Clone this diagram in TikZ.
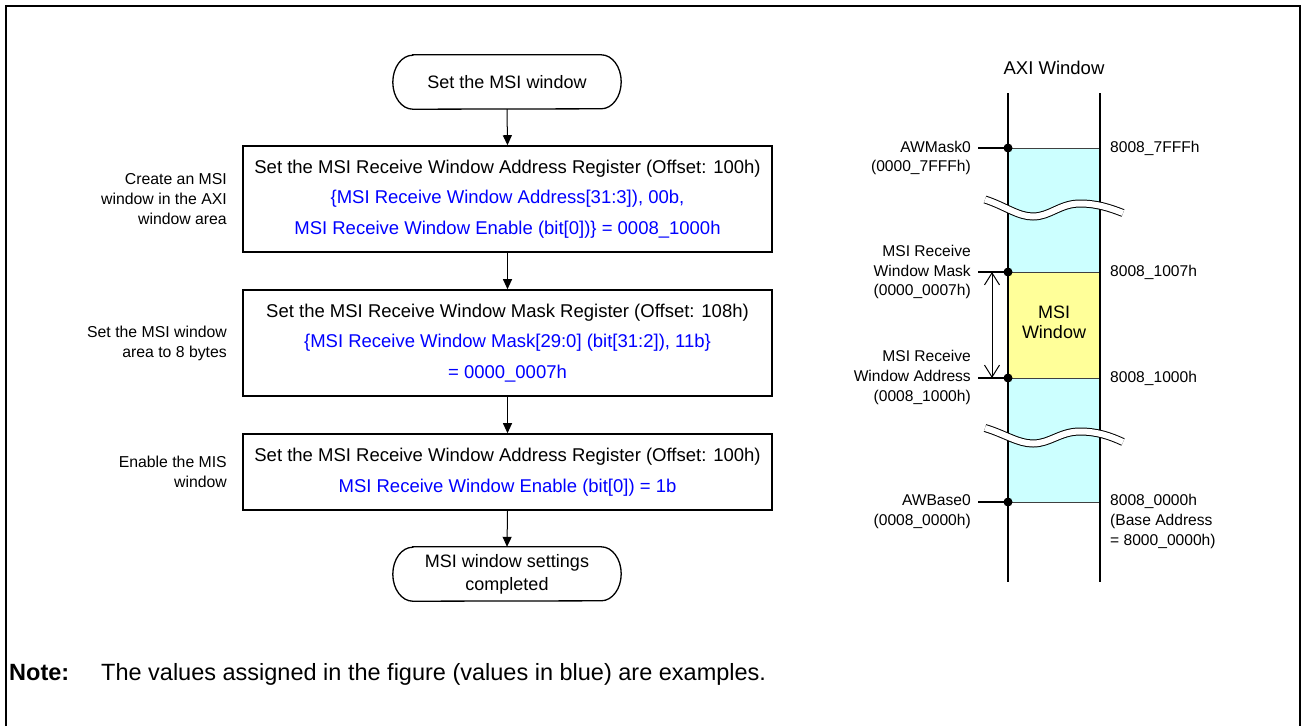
\documentclass[tikz,border=0pt]{standalone}
\usepackage{fontspec}
\setmainfont{Liberation Sans}
\usetikzlibrary{arrows.meta,calc}
\definecolor{cyanfill}{HTML}{CCFFFF}
\definecolor{yellowfill}{HTML}{FFFF99}
\definecolor{valblue}{HTML}{0000FF}
\newcommand{\termoutline}[1]{%
  \draw[line width=1.3pt] ([xshift=20pt]#1.north west) -- ([xshift=-20pt]#1.north east)
    arc[start angle=90,end angle=-90,x radius=20pt,y radius=27pt]
    -- ([xshift=20pt]#1.south west)
    arc[start angle=270,end angle=90,x radius=20pt,y radius=27pt] -- cycle;}
\begin{document}
\begin{tikzpicture}[x=1pt,y=1pt,
  box/.style={draw, line width=1.6pt, minimum width=529pt, align=center, inner sep=0pt,
    font=\fontsize{18.5}{30.5}\selectfont},
  term/.style={minimum width=228pt, minimum height=54pt, align=center, inner sep=0pt,
    font=\fontsize{18}{23}\selectfont},
  flow/.style={-{Triangle[length=10pt,width=9pt]}, line width=1pt},
  lbl/.style={anchor=east, align=right, inner sep=0pt, font=\fontsize{15.8}{20}\selectfont},
  rlbl/.style={inner sep=0pt, font=\fontsize{15.6}{19.7}\selectfont},
  sep/.style={line width=1pt, black!75},
  tick/.style={line width=1.6pt},
  brk/.style={double=white, double distance=6pt, line width=1pt},
  bar/.style={line width=1.5pt}
]
\useasboundingbox (0,0) rectangle (1301,-726);
% frame
\draw[line width=2pt] (5.7,-726) -- (5.7,-5.7) -- (1299.5,-5.7) -- (1299.5,-726);

% ---------- flowchart ----------
\node[term] (start) at (507,-82) {Set the MSI window};
\termoutline{start}
\node[box, minimum height=106pt] (b1) at (507.5,-199)
  {Set the MSI Receive Window Address Register (Offset: 100h)\\
   \textcolor{valblue}{\{MSI Receive Window Address[31:3]), 00b,}\\
   \textcolor{valblue}{MSI Receive Window Enable (bit[0])\} = 0008\_1000h}};
\node[box, minimum height=106pt] (b2) at (507.5,-343)
  {Set the MSI Receive Window Mask Register (Offset: 108h)\\
   \textcolor{valblue}{\{MSI Receive Window Mask[29:0] (bit[31:2]), 11b\}}\\
   \textcolor{valblue}{= 0000\_0007h}};
\node[box, minimum height=76pt] (b3) at (507.5,-472)
  {Set the MSI Receive Window Address Register (Offset: 100h)\\
   \textcolor{valblue}{MSI Receive Window Enable (bit[0]) = 1b}};
\node[term] (stop) at (507,-574) {MSI window settings\\completed};
\termoutline{stop}

\draw[flow] (start.south) -- (b1.north);
\draw[flow] (b1.south) -- (b2.north);
\draw[flow] (b2.south) -- (b3.north);
\draw[flow] (b3.south) -- (stop.north);

\node[lbl] (c1) at (227,-199) {Create an MSI\\window in the AXI\\window area};
\node[lbl] (c2) at (227,-343) {Set the MSI window\\area to 8 bytes};
\node[lbl] (c3) at (227,-471.5) {Enable the MIS\\window};

% ---------- AXI window ----------
\node[font=\fontsize{18.5}{22}\selectfont] (axi) at (1054,-68) {AXI Window};
\fill[cyanfill] (1008,-148) rectangle (1100,-272);
\fill[yellowfill] (1008,-272) rectangle (1100,-378);
\fill[cyanfill] (1008,-378) rectangle (1100,-502);
\coordinate (m0) at (1008,-148);
\coordinate (m1) at (1008,-272);
\coordinate (m2) at (1008,-378);
\coordinate (m3) at (1008,-502);
\coordinate (n0) at (1100,-148);
\coordinate (n1) at (1100,-272);
\coordinate (n2) at (1100,-378);
\coordinate (n3) at (1100,-502);
\draw[sep] (m0) -- (n0);
\draw[sep] (m1) -- (n1);
\draw[sep] (m2) -- (n2);
\draw[sep] (m3) -- (n3);
\coordinate (lt) at (1008,-93);
\coordinate (lb) at (1008,-582);
\coordinate (rt) at (1100,-93);
\coordinate (rb) at (1100,-582);
\draw[bar] (lt) -- (lb);
\draw[bar] (rt) -- (rb);
% breaks
\draw[brk] (985,-199.5) .. controls (1005,-206) and (1018,-216.5) .. (1033,-216.5)
  .. controls (1050,-216.5) and (1060,-203.5) .. (1080,-203.5)
  .. controls (1097,-203.5) and (1110,-208) .. (1123,-213);
\draw[brk] (985,-428) .. controls (1005,-434) and (1018,-443.5) .. (1033,-443.5)
  .. controls (1050,-443.5) and (1060,-431.5) .. (1080,-431.5)
  .. controls (1097,-431.5) and (1110,-436) .. (1123,-442);
% ticks and dots
\coordinate (t0) at (978,-148);
\coordinate (t1) at (978,-272);
\coordinate (t2) at (978,-378);
\coordinate (t3) at (978,-502);
\draw[tick] (t0) -- (m0);
\draw[tick] (t1) -- (m1);
\draw[tick] (t2) -- (m2);
\draw[tick] (t3) -- (m3);
\fill (m0) circle (4.5pt);
\fill (m1) circle (4.5pt);
\fill (m2) circle (4.5pt);
\fill (m3) circle (4.5pt);
% size arrow
\coordinate (a1) at (992,-272);
\coordinate (a2) at (992,-378);
\draw[{Straight Barb[length=12pt,width=15pt]}-{Straight Barb[length=12pt,width=15pt]}, line width=1pt] (a1) -- (a2);
\node[font=\fontsize{18}{20}\selectfont, align=center] (msiw) at (1054,-322) {MSI\\Window};

\node[rlbl, anchor=east, align=right] (l1) at (971,-158) {AWMask0\\(0000\_7FFFh)};
\node[rlbl, anchor=east, align=right] (l2) at (971,-272) {MSI Receive\\Window Mask\\(0000\_0007h)};
\node[rlbl, anchor=east, align=right] (l3) at (971,-377.5) {MSI Receive\\Window Address\\(0008\_1000h)};
\node[rlbl, anchor=east, align=right] (l4) at (971,-512) {AWBase0\\(0008\_0000h)};
\node[rlbl, anchor=west] (r1) at (1110,-148) {8008\_7FFFh};
\node[rlbl, anchor=west] (r2) at (1110,-272) {8008\_1007h};
\node[rlbl, anchor=west] (r3) at (1110,-378) {8008\_1000h};
\node[rlbl, anchor=west, align=left] (r4) at (1110,-521.5) {8008\_0000h\\(Base Address\\= 8000\_0000h)};

% ---------- note ----------
\node[anchor=base west, inner sep=0pt, font=\bfseries\fontsize{23.5}{26}\selectfont] (note) at (9,-680) {Note:};
\node[anchor=base west, inner sep=0pt, font=\fontsize{23.5}{26}\selectfont] (notetext) at (101,-680)
  {The values assigned in the figure (values in blue) are examples.};
\end{tikzpicture}
\end{document}
